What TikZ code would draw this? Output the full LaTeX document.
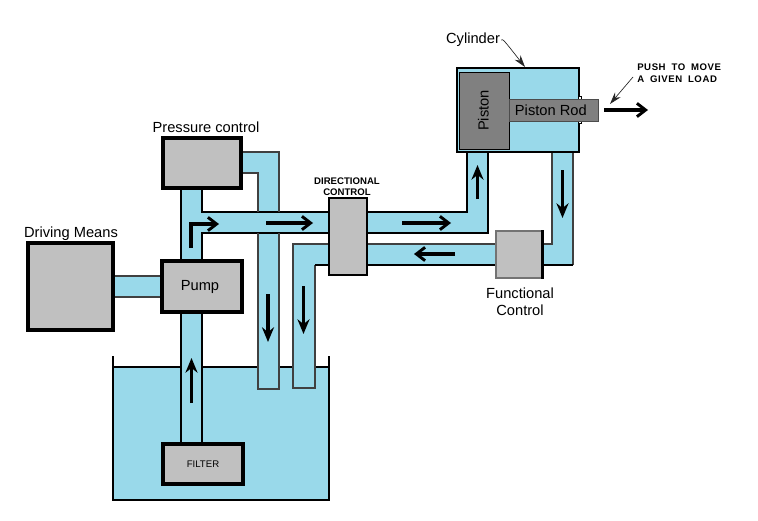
\documentclass[tikz,border=0pt]{standalone}
\usepackage{fontspec}
\setmainfont{Liberation Sans}
\newfontfamily\capsfont[LetterSpace=6,WordSpace=1.8]{Liberation Sans Bold}
\usetikzlibrary{arrows.meta}
\definecolor{fluid}{HTML}{99D9EA}
\definecolor{boxgray}{HTML}{C0C0C0}
\definecolor{steel}{HTML}{808080}
\newcommand{\U}{0.75pt}
\tikzset{
  x=0.75pt,y=-0.75pt,
  lbl/.style={font=\fontsize{11}{13}\selectfont,inner sep=0pt,align=center},
  box/.style={draw=black,fill=boxgray,inner sep=0pt,line width=2.6pt,font=\fontsize{11}{13}\selectfont},
  pipefill/.style={fill=fluid,draw=none},
  edge/.style={draw=black,line width=1.3pt,line join=miter},
  edgegray/.style={draw=black!75,line width=1.2pt,line join=miter},
  flow/.style={draw=black,line width=2.3pt,-{Straight Barb[length=6.5pt,width=10pt,line width=2.2pt]}},
  flowup/.style={draw=black,line width=2.3pt,-{Stealth[length=11pt,width=9pt]}},
  pointer/.style={draw=black!85,line width=0.5pt,-{Stealth[length=9pt,width=5.5pt]}},
}
\begin{document}
\begin{tikzpicture}
\useasboundingbox[fill=white] (0,0) rectangle (758,521);
% reservoir
\fill[fluid] (113,367) rectangle (329,500);
\draw[black,line width=1.5pt] (113,356) -- (113,500) -- (329,500) -- (329,356);
\draw[black,line width=1.5pt] (113,367) -- (329,367);
% pipe fills
\path[pipefill] (181,188) rectangle (202,444);
\path[pipefill] (181,212) rectangle (329,233);
\path[pipefill] (241,152) rectangle (279,173);
\path[pipefill] (258,152) rectangle (279,389);
\path[pipefill] (293,244) rectangle (329,265);
\path[pipefill] (293,244) rectangle (315,388);
\path[pipefill] (113,276) rectangle (162,297);
\path[pipefill] (367,212) rectangle (467,233);
\path[pipefill] (467,152) rectangle (488,233);
\path[pipefill] (367,244) rectangle (496,265);
\path[pipefill] (542,244) rectangle (573,265);
\path[pipefill] (552,152) rectangle (573,265);
% pipe edges
\draw[edge] (181,188) -- (181,261);
\draw[edge] (202,188) -- (202,212) -- (329,212);
\draw[edge] (202,261) -- (202,233) -- (329,233);
\draw[edge] (181,312) -- (181,444);
\draw[edge] (202,312) -- (202,444);
\draw[edgegray] (241,152) -- (279,152) -- (279,212);
\draw[edgegray] (241,173) -- (258,173) -- (258,212);
\draw[edgegray] (258,233) -- (258,389) -- (279,389) -- (279,233);
\draw[edgegray] (329,244) -- (293,244) -- (293,388) -- (315,388) -- (315,265);
\draw[edge] (315,265) -- (329,265);
\draw[edgegray] (113,276) -- (162,276);
\draw[edgegray] (113,297) -- (162,297);
\draw[edge] (367,212) -- (467,212) -- (467,152);
\draw[edge] (367,233) -- (488,233) -- (488,152);
\draw[edgegray] (367,244) -- (496,244);
\draw[edge] (367,265) -- (496,265);
\draw[edgegray] (542,244) -- (552,244) -- (552,152);
\draw[edgegray] (573,152) -- (573,265);
\draw[edge] (573,265) -- (542,265);
% components
\node[box] (pressure) at (202,163) [minimum width=78*\U,minimum height=50*\U] {};
\node[box] (pump) at (202,286.5) [minimum width=80*\U,minimum height=51*\U] {\hspace*{-3pt}Pump};
\node[box,line width=2.3pt,font=\fontsize{7.2}{9}\selectfont] (filter) at (203,464) [minimum width=80*\U,minimum height=40*\U] {FILTER};
\node[box,line width=2.3pt] (driving) at (70.5,286.5) [minimum width=85*\U,minimum height=87*\U] {};
\node[box,line width=2pt] (directional) at (348,236.5) [minimum width=38*\U,minimum height=77*\U] {};
\node[box,draw=black!55,line width=1pt] (functional) at (519,254.5) [minimum width=46*\U,minimum height=47*\U] {};
\draw[black,line width=2pt] (functional.north east) -- (functional.south east);
\node[draw=black,fill=fluid,line width=1.1pt,inner sep=0pt] (cylinder) at (518,110) [minimum width=122*\U,minimum height=84*\U] {};
\node[draw=black,line width=.6pt,fill=white,inner sep=0pt,minimum size=3*\U] (nubtop) at (580,98) {};
\node[draw=black,line width=.6pt,fill=white,inner sep=0pt,minimum size=3*\U] (nubbot) at (580,122) {};
\node[draw=black,fill=steel,line width=.7pt,inner sep=0pt,font=\fontsize{11}{13}\selectfont] (piston) at (484,110.5) [minimum width=50*\U,minimum height=77*\U] {\hspace*{-1pt}\rotatebox{90}{Piston}};
\node[draw=black!70,fill=steel,line width=.6pt,inner sep=0pt,font=\fontsize{11}{13}\selectfont] (rod) at (553.5,110) [minimum width=89*\U,minimum height=22*\U] {\hspace*{-4pt}Piston Rod};
% labels
\node[lbl] (lpressure) at (206,127) {Pressure control};
\node[lbl] (ldriving) at (71,234) {Driving Means};
\node[lbl] (lfunctional) at (520,302) {Functional\\Control};
\node[lbl] (lcylinder) at (473,40) {Cylinder};
\node[inner sep=0pt,align=center,font=\bfseries\fontsize{7.2}{8.3}\selectfont] (ldirectional) at (347,186.5) {DIRECTIONAL\\CONTROL};
\node[inner sep=0pt,align=left,anchor=west,font=\capsfont\fontsize{7.2}{9}\selectfont] (lpush) at (637,73) {PUSH TO MOVE\\A GIVEN LOAD};
% pointer lines
\coordinate (cylpt) at (525,67);
\coordinate (pushpt) at (610,104);
\draw[pointer] (lcylinder.east) ++(1,0) .. controls (503,39) .. (cylpt);
\coordinate (pushstart) at (633,77);
\draw[pointer] (pushstart) -- (pushpt);
% flow arrows
\coordinate (a1s) at (191,248); \coordinate (a1m) at (191,224); \coordinate (a1e) at (219,224);
\draw[flow,line join=miter] (a1s) -- (a1m) -- (a1e);
\coordinate (a2s) at (266,223); \coordinate (a2e) at (313,223);
\draw[flow] (a2s) -- (a2e);
\coordinate (a3s) at (268,294); \coordinate (a3e) at (268,342);
\draw[flowup] (a3s) -- (a3e);
\coordinate (a4s) at (303.5,286); \coordinate (a4e) at (303.5,334);
\draw[flowup] (a4s) -- (a4e);
\coordinate (a5s) at (191.5,403); \coordinate (a5e) at (191.5,358);
\draw[flowup] (a5s) -- (a5e);
\coordinate (a6s) at (402,223); \coordinate (a6e) at (451,223);
\draw[flow] (a6s) -- (a6e);
\coordinate (a7s) at (477.5,199); \coordinate (a7e) at (477.5,165);
\draw[flowup] (a7s) -- (a7e);
\coordinate (a8s) at (562.5,170); \coordinate (a8e) at (562.5,218);
\draw[flowup] (a8s) -- (a8e);
\coordinate (a9s) at (455,254); \coordinate (a9e) at (414,254);
\draw[flow] (a9s) -- (a9e);
\coordinate (a10s) at (604,110); \coordinate (a10e) at (648,110);
\draw[flow] (a10s) -- (a10e);
\end{tikzpicture}
\end{document}
